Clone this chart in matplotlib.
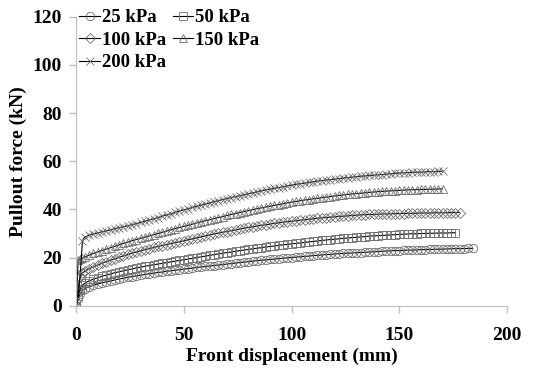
import matplotlib
matplotlib.use("Agg")
import matplotlib.pyplot as plt

# displacement grid (mm), shared by all series; each series uses the first len(y) values
disp = [0, 1, 2, 3] + list(range(4, 185, 2))

force_25 = [0, 3, 5, 6.5, 7.1, 7.9, 8.5, 9.0, 9.5, 9.9, 10.3, 10.7, 11.1, 11.4, 11.8, 12.1,
            12.4, 12.7, 13.0, 13.3, 13.5, 13.8, 14.0, 14.3, 14.5, 14.7, 15.0, 15.2, 15.4,
            15.6, 15.9, 16.1, 16.3, 16.5, 16.7, 16.9, 17.1, 17.3, 17.5, 17.7, 17.9, 18.1,
            18.3, 18.5, 18.7, 18.9, 19.0, 19.2, 19.4, 19.6, 19.7, 19.9, 20.0, 20.2, 20.3,
            20.5, 20.6, 20.8, 20.9, 21.1, 21.2, 21.3, 21.5, 21.6, 21.7, 21.8, 21.9, 22.0,
            22.1, 22.2, 22.3, 22.4, 22.5, 22.6, 22.7, 22.8, 22.9, 22.9, 23.0, 23.1, 23.1,
            23.2, 23.3, 23.3, 23.4, 23.4, 23.5, 23.5, 23.6, 23.6, 23.7, 23.7, 23.7, 23.8, 23.8]
force_50 = [0, 4, 7, 8.5, 9.3, 10.3, 11.0, 11.6, 12.2, 12.7, 13.2, 13.7, 14.1, 14.5, 14.9,
            15.3, 15.7, 16.0, 16.4, 16.7, 17.0, 17.3, 17.6, 17.9, 18.2, 18.5, 18.8, 19.1,
            19.4, 19.7, 20.0, 20.3, 20.6, 20.9, 21.2, 21.5, 21.8, 22.1, 22.3, 22.6, 22.9,
            23.1, 23.4, 23.6, 23.9, 24.1, 24.4, 24.6, 24.8, 25.1, 25.3, 25.5, 25.7, 25.9,
            26.1, 26.3, 26.5, 26.7, 26.9, 27.1, 27.3, 27.5, 27.6, 27.8, 28.0, 28.1, 28.3,
            28.4, 28.6, 28.7, 28.9, 29.0, 29.1, 29.2, 29.3, 29.4, 29.5, 29.6, 29.7, 29.8,
            29.9, 29.9, 30.0, 30.0, 30.1, 30.1, 30.2, 30.2, 30.2, 30.3, 30.3]
force_100 = [0, 7, 12, 13.5, 14.3, 15.3, 16.1, 16.9, 17.6, 18.3, 18.9, 19.5, 20.1, 20.7,
             21.3, 21.8, 22.3, 22.8, 23.3, 23.7, 24.2, 24.6, 25.0, 25.4, 25.8, 26.2, 26.6,
             27.0, 27.4, 27.8, 28.2, 28.6, 29.0, 29.4, 29.8, 30.1, 30.5, 30.8, 31.2, 31.5,
             31.8, 32.2, 32.5, 32.8, 33.1, 33.4, 33.6, 33.9, 34.2, 34.4, 34.7, 34.9, 35.1,
             35.3, 35.5, 35.7, 35.9, 36.1, 36.3, 36.5, 36.6, 36.8, 36.9, 37.1, 37.2, 37.3,
             37.5, 37.6, 37.7, 37.8, 37.9, 37.9, 38.0, 38.1, 38.1, 38.2, 38.2, 38.3, 38.3,
             38.4, 38.4, 38.4, 38.5, 38.5, 38.5, 38.6, 38.6, 38.6, 38.6, 38.7, 38.7, 38.7]
force_150 = [0, 19, 19.5, 19.8, 20.2, 21.0, 21.7, 22.3, 22.9, 23.5, 24.1, 24.7, 25.3, 25.9,
             26.4, 27.0, 27.5, 28.0, 28.5, 29.0, 29.5, 30.0, 30.5, 31.0, 31.5, 32.0, 32.5,
             33.0, 33.4, 33.9, 34.4, 34.8, 35.3, 35.7, 36.2, 36.6, 37.0, 37.5, 37.9, 38.3,
             38.7, 39.1, 39.5, 39.9, 40.3, 40.6, 41.0, 41.3, 41.7, 42.0, 42.3, 42.7, 43.0,
             43.3, 43.6, 43.9, 44.1, 44.4, 44.6, 44.9, 45.1, 45.3, 45.6, 45.8, 46.0, 46.2,
             46.4, 46.6, 46.7, 46.9, 47.1, 47.2, 47.4, 47.5, 47.6, 47.7, 47.8, 47.9, 48.0,
             48.1, 48.2, 48.2, 48.3, 48.3, 48.4, 48.4, 48.5, 48.5]
force_200 = [0, 3, 14, 27, 28.5, 29.3, 29.8, 30.2, 30.7, 31.1, 31.5, 32.0, 32.4, 32.8, 33.2,
             33.7, 34.1, 34.6, 35.1, 35.6, 36.1, 36.6, 37.2, 37.7, 38.2, 38.8, 39.3, 39.8,
             40.3, 40.8, 41.3, 41.8, 42.2, 42.7, 43.2, 43.6, 44.1, 44.5, 44.9, 45.3, 45.7,
             46.1, 46.5, 46.9, 47.3, 47.7, 48.1, 48.4, 48.7, 49.1, 49.4, 49.7, 50.1, 50.4,
             50.7, 50.9, 51.2, 51.5, 51.7, 52.0, 52.2, 52.4, 52.6, 52.8, 53.0, 53.2, 53.4,
             53.6, 53.8, 53.9, 54.1, 54.2, 54.4, 54.5, 54.7, 54.8, 55.0, 55.1, 55.2, 55.3,
             55.4, 55.5, 55.5, 55.6, 55.7, 55.7, 55.8, 55.9]

labels = ["25 kPa", "50 kPa", "100 kPa", "150 kPa", "200 kPa"]
series = [force_25, force_50, force_100, force_150, force_200]
markers = ["o", "s", "D", "^", "x"]
msizes = [6, 6, 4.8, 6, 6]

plt.rcParams["font.family"] = "Liberation Serif"
plt.rcParams["font.weight"] = "bold"

fig = plt.figure(figsize=(5.41, 3.74), dpi=100)
ax = fig.add_axes([0.1405, 0.1826, 0.797, 0.7724])

handles = []
for y, lab, m, ms in zip(series, labels, markers, msizes):
    h, = ax.plot(disp[:len(y)], y, color="black", lw=0.8, marker=m, markersize=ms,
                 markerfacecolor="none", markeredgecolor="#6e6e6e", markeredgewidth=0.6,
                 label=lab)
    handles.append(h)

ax.set_xlim(0, 200)
ax.set_ylim(0, 120)
ax.set_xticks([0, 50, 100, 150, 200])
ax.set_yticks([0, 20, 40, 60, 80, 100, 120])
ax.set_xlabel("Front displacement (mm)", fontsize=14, fontweight="bold", labelpad=3)
ax.set_ylabel("Pullout force (kN)", fontsize=14, fontweight="bold", labelpad=4)
ax.tick_params(labelsize=14, color="#bfbfbf", length=5, width=1)
ax.tick_params(axis="x", pad=10)
ax.tick_params(axis="y", pad=5)
for lbl in ax.get_xticklabels() + ax.get_yticklabels():
    lbl.set_fontweight("bold")
for s in ["top", "right"]:
    ax.spines[s].set_visible(False)
for s in ["left", "bottom"]:
    ax.spines[s].set_color("#bfbfbf")

# legend filled column-wise: 25/100/200 on the left, 50/150 on the right
order = [0, 2, 4, 1, 3]
ax.legend([handles[i] for i in order], [labels[i] for i in order], ncol=2,
          loc="upper left", bbox_to_anchor=(0.008, 1.026), frameon=False,
          prop={"size": 13.5, "weight": "bold"}, handlelength=1.1, handletextpad=0.1,
          columnspacing=0.35, labelspacing=0.28, borderaxespad=0, borderpad=0)

fig.savefig("out.png", dpi=100)
